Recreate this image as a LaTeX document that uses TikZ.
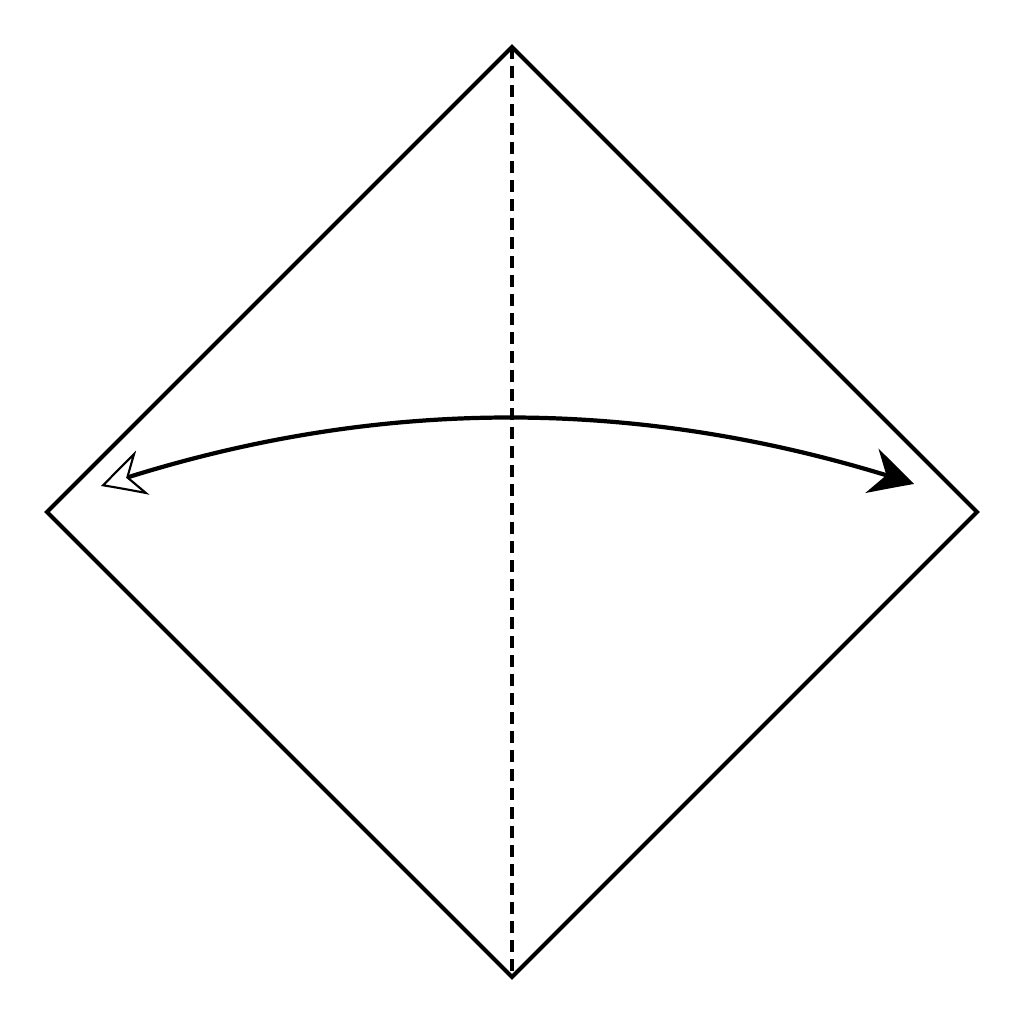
\documentclass[tikz,border=0pt]{standalone}
\usepackage{amsmath}
\usepackage{tikz}
\usetikzlibrary{calc,arrows.meta,bending}

\begin{document}
\begin{tikzpicture}[
		paperedge/.style={line width=1.2pt, line join=miter},
		valley/.style={line width=1.05pt, dash pattern=on 1.2mm off 0.7mm},
		foldarrow/.style={line width=1.2pt}
		]
		\useasboundingbox (-5.12,-5.12) rectangle (5.12,5.12);

		\coordinate (T) at (0,4.65);
		\coordinate (L) at (-4.65,0);
		\coordinate (R) at (4.65,0);
		\coordinate (B) at (0,-4.65);
		\draw[paperedge] (T) -- (R) -- (B) -- (L) -- cycle;
		\draw[valley] (T) -- (B);

		\coordinate (A1) at (-4.11,0.26);
		\coordinate (A2) at (4.02,0.28);
		\draw[foldarrow, {Stealth[open, bend, line width=0.6pt, length=4.4mm, width=4.6mm, inset=1.5mm]}-{Stealth[bend, length=4.4mm, width=4.6mm, inset=1.5mm]}]
		(A1) .. controls (-1.40,1.17) and (1.31,1.17) .. (A2);
	\end{tikzpicture}
\end{document}
